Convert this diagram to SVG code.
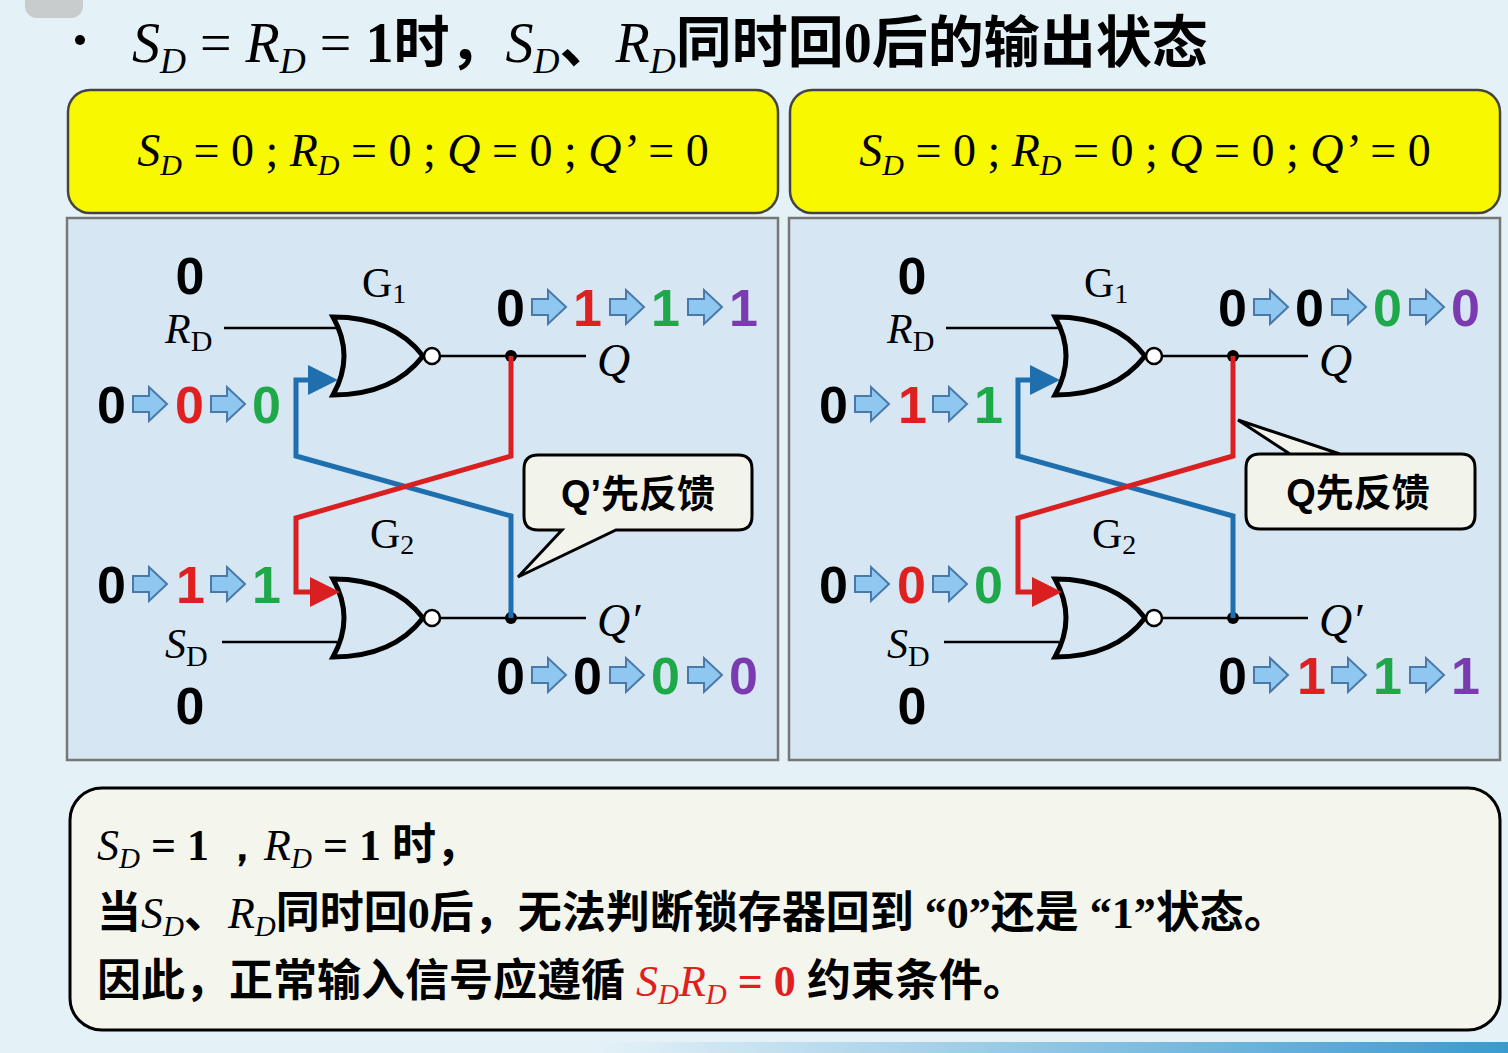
<svg xmlns="http://www.w3.org/2000/svg" width="1508" height="1053" viewBox="0 0 1508 1053">
<style>
.it{font-family:"Liberation Serif",serif;font-style:italic}
.sr{font-family:"Liberation Serif",serif;font-style:normal}
.n{font-family:"Liberation Sans",sans-serif;font-weight:bold;font-size:52px}
.cj{font-family:"Liberation Serif","Noto Sans CJK SC",sans-serif;font-weight:bold}
.w{fill:none;stroke:#000;stroke-width:2.5}
.g{fill:none;stroke:#000;stroke-width:5}
.bl{fill:none;stroke:#1f6fae;stroke-width:5}
.rd{fill:none;stroke:#d91f1f;stroke-width:5}
.k{fill:#000}.r{fill:#e02020}.gr{fill:#1ea84a}.p{fill:#7a3ab0}
</style>
<defs>
<path id="ar" d="M0,-8 H16 V-17 L34,0 L16,17 V8 H0 Z" fill="#8ec8f0" stroke="#4a78a8" stroke-width="2"/>
<marker id="mb" markerWidth="6" markerHeight="6" refX="4" refY="3" orient="auto"><path d="M0,0 L6,3 L0,6 Z" fill="#1f6fae"/></marker>
<marker id="mr" markerWidth="6" markerHeight="6" refX="4" refY="3" orient="auto"><path d="M0,0 L6,3 L0,6 Z" fill="#d91f1f"/></marker>
<g id="nor">
<path class="g" d="M0,-39 Q60,-39 90,0 Q60,39 0,39 Q22,0 0,-39 Z"/>
<circle cx="99" cy="0" r="8" fill="#fff" stroke="#000" stroke-width="2.5"/>
</g>
<linearGradient id="band" x1="0" x2="1"><stop offset="0" stop-color="#3a9ad0" stop-opacity="0"/><stop offset="1" stop-color="#3a9ad0"/></linearGradient>
</defs>
<rect width="1508" height="1053" fill="#e4f1f7"/>
<rect x="25" y="-20" width="58" height="38" rx="12" fill="#c8cccc"/>
<rect x="600" y="1042" width="908" height="11" fill="url(#band)"/>
<g id="title">
<circle cx="80" cy="40" r="5" fill="#000"/>
<text x="132" y="62" font-size="56" class="cj"><tspan class="it" font-weight="normal">S</tspan><tspan class="it" font-weight="normal" font-size="36" dy="11">D</tspan><tspan class="sr" font-weight="normal" dy="-11"> = </tspan><tspan class="it" font-weight="normal">R</tspan><tspan class="it" font-weight="normal" font-size="36" dy="11">D</tspan><tspan class="sr" font-weight="normal" dy="-11"> = </tspan><tspan>1时，</tspan><tspan class="it" font-weight="normal">S</tspan><tspan class="it" font-weight="normal" font-size="36" dy="11">D</tspan><tspan dy="-11">、</tspan><tspan class="it" font-weight="normal">R</tspan><tspan class="it" font-weight="normal" font-size="36" dy="11">D</tspan><tspan dy="-11">同时回0后的输出状态</tspan></text>
</g>

<g id="panel1">
<rect x="68" y="90" width="710" height="123" rx="22" fill="#f8f800" stroke="#444" stroke-width="2.5"/>
<text x="423" y="166" text-anchor="middle" font-size="46" class="it"><tspan>S</tspan><tspan font-size="30" dy="9">D</tspan><tspan class="sr" dy="-9"> = 0 ; </tspan><tspan>R</tspan><tspan font-size="30" dy="9">D</tspan><tspan class="sr" dy="-9"> = 0 ; </tspan><tspan>Q</tspan><tspan class="sr"> = 0 ; </tspan><tspan>Q’</tspan><tspan class="sr"> = 0</tspan></text>
<rect x="67" y="218" width="711" height="542" fill="#d6e7f3" stroke="#777" stroke-width="2.5"/>
</g>
<g id="panel2">
<rect x="790" y="90" width="710" height="123" rx="22" fill="#f8f800" stroke="#444" stroke-width="2.5"/>
<text x="1145" y="166" text-anchor="middle" font-size="46" class="it"><tspan>S</tspan><tspan font-size="30" dy="9">D</tspan><tspan class="sr" dy="-9"> = 0 ; </tspan><tspan>R</tspan><tspan font-size="30" dy="9">D</tspan><tspan class="sr" dy="-9"> = 0 ; </tspan><tspan>Q</tspan><tspan class="sr"> = 0 ; </tspan><tspan>Q’</tspan><tspan class="sr"> = 0</tspan></text>
<rect x="789" y="218" width="711" height="542" fill="#d6e7f3" stroke="#777" stroke-width="2.5"/>
</g>

<g id="circuit1">
<g id="G1"><use href="#nor" x="333" y="356"/><text x="362" y="297" font-size="42" class="sr">G<tspan font-size="28" dy="6">1</tspan></text></g>
<g id="G2"><use href="#nor" x="333" y="618"/><text x="370" y="548" font-size="42" class="sr">G<tspan font-size="28" dy="6">2</tspan></text></g>
<g id="connectors1">
<path class="w" d="M224,328 H337 M222,642 H337 M441,356 H586 M441,618 H586"/>
<circle cx="511" cy="356" r="6"/><circle cx="511" cy="618" r="6"/>
<path class="bl" d="M511,618 V516 L296,456 V380 H328" marker-end="url(#mb)"/>
<path class="rd" d="M511,356 V456 L296,518 V592 H330" marker-end="url(#mr)"/>
</g>
<text x="190" y="294" text-anchor="middle" class="n k">0</text>
<text x="190" y="724" text-anchor="middle" class="n k">0</text>
<text x="165" y="343" font-size="42" class="it">R<tspan class="sr" font-size="30" dy="8">D</tspan></text>
<text x="165" y="658" font-size="42" class="it">S<tspan class="sr" font-size="30" dy="8">D</tspan></text>
<text x="597" y="376" font-size="46" class="it">Q</text>
<text x="597" y="636" font-size="46" class="it">Q′</text>
<text x="97" y="423" class="n k">0</text><use href="#ar" x="133" y="404"/><text x="175" y="423" class="n r">0</text><use href="#ar" x="211" y="404"/><text x="252" y="423" class="n gr">0</text>
<text x="97" y="603" class="n k">0</text><use href="#ar" x="133" y="584"/><text x="176" y="603" class="n r">1</text><use href="#ar" x="211" y="584"/><text x="252" y="603" class="n gr">1</text>
<text x="496" y="326" class="n k">0</text><use href="#ar" x="532" y="307"/><text x="573" y="326" class="n r">1</text><use href="#ar" x="610" y="307"/><text x="651" y="326" class="n gr">1</text><use href="#ar" x="688" y="307"/><text x="729" y="326" class="n p">1</text>
<text x="496" y="694" class="n k">0</text><use href="#ar" x="532" y="675"/><text x="573" y="694" class="n k">0</text><use href="#ar" x="610" y="675"/><text x="651" y="694" class="n gr">0</text><use href="#ar" x="688" y="675"/><text x="729" y="694" class="n p">0</text>
<g id="callout1">
<path d="M538,455 H738 Q752,455 752,469 V516 Q752,530 738,530 H616 L518,577 L562,530 H538 Q524,530 524,516 V469 Q524,455 538,455 Z" fill="#f2f4ec" stroke="#000" stroke-width="3"/>
<text x="638" y="507" text-anchor="middle" font-size="38" font-family="Liberation Sans,'Noto Sans CJK SC',sans-serif" font-weight="bold">Q’先反馈</text>
</g>
</g>

<g id="circuit2">
<g id="G1b"><use href="#nor" x="1055" y="356"/><text x="1084" y="297" font-size="42" class="sr">G<tspan font-size="28" dy="6">1</tspan></text></g>
<g id="G2b"><use href="#nor" x="1055" y="618"/><text x="1092" y="548" font-size="42" class="sr">G<tspan font-size="28" dy="6">2</tspan></text></g>
<g id="connectors2">
<path class="w" d="M946,328 H1059 M944,642 H1059 M1163,356 H1308 M1163,618 H1308"/>
<circle cx="1233" cy="356" r="6"/><circle cx="1233" cy="618" r="6"/>
<path class="bl" d="M1233,618 V516 L1018,456 V380 H1050" marker-end="url(#mb)"/>
<path class="rd" d="M1233,356 V456 L1018,518 V592 H1052" marker-end="url(#mr)"/>
</g>
<text x="912" y="294" text-anchor="middle" class="n k">0</text>
<text x="912" y="724" text-anchor="middle" class="n k">0</text>
<text x="887" y="343" font-size="42" class="it">R<tspan class="sr" font-size="30" dy="8">D</tspan></text>
<text x="887" y="658" font-size="42" class="it">S<tspan class="sr" font-size="30" dy="8">D</tspan></text>
<text x="1319" y="376" font-size="46" class="it">Q</text>
<text x="1319" y="636" font-size="46" class="it">Q′</text>
<text x="819" y="423" class="n k">0</text><use href="#ar" x="855" y="404"/><text x="898" y="423" class="n r">1</text><use href="#ar" x="933" y="404"/><text x="974" y="423" class="n gr">1</text>
<text x="819" y="603" class="n k">0</text><use href="#ar" x="855" y="584"/><text x="897" y="603" class="n r">0</text><use href="#ar" x="933" y="584"/><text x="974" y="603" class="n gr">0</text>
<text x="1218" y="326" class="n k">0</text><use href="#ar" x="1254" y="307"/><text x="1295" y="326" class="n k">0</text><use href="#ar" x="1332" y="307"/><text x="1373" y="326" class="n gr">0</text><use href="#ar" x="1410" y="307"/><text x="1451" y="326" class="n p">0</text>
<text x="1218" y="694" class="n k">0</text><use href="#ar" x="1254" y="675"/><text x="1297" y="694" class="n r">1</text><use href="#ar" x="1332" y="675"/><text x="1373" y="694" class="n gr">1</text><use href="#ar" x="1410" y="675"/><text x="1451" y="694" class="n p">1</text>
<g id="callout2">
<path d="M1260,454 H1461 Q1475,454 1475,468 V515 Q1475,529 1461,529 H1260 Q1246,529 1246,515 V468 Q1246,454 1260,454 H1340 L1238,420 L1290,454" fill="#f2f4ec" stroke="#000" stroke-width="3"/>
<text x="1358" y="506" text-anchor="middle" font-size="38" font-family="Liberation Sans,'Noto Sans CJK SC',sans-serif" font-weight="bold">Q先反馈</text>
</g>
</g>

<g id="note">
<rect x="70" y="788" width="1430" height="242" rx="32" fill="#f4f6ee" stroke="#000" stroke-width="3"/>
<text x="97" y="860" font-size="44" class="cj"><tspan class="it" font-weight="normal">S</tspan><tspan class="it" font-weight="normal" font-size="29" dy="8">D</tspan><tspan class="sr" dy="-8"> = 1 ，</tspan><tspan class="it" font-weight="normal">R</tspan><tspan class="it" font-weight="normal" font-size="29" dy="8">D</tspan><tspan class="sr" dy="-8"> = 1 </tspan><tspan>时，</tspan></text>
<text x="97" y="928" font-size="44" class="cj"><tspan>当</tspan><tspan class="it" font-weight="normal">S</tspan><tspan class="it" font-weight="normal" font-size="29" dy="8">D</tspan><tspan dy="-8">、</tspan><tspan class="it" font-weight="normal">R</tspan><tspan class="it" font-weight="normal" font-size="29" dy="8">D</tspan><tspan dy="-8">同时回0后，无法判断锁存器回到 “0”还是 “1”状态。</tspan></text>
<text x="97" y="996" font-size="44" class="cj"><tspan>因此，正常输入信号应遵循 </tspan><tspan class="it" font-weight="normal" fill="#e02020">S</tspan><tspan class="it" font-weight="normal" font-size="29" dy="8" fill="#e02020">D</tspan><tspan class="it" font-weight="normal" fill="#e02020" dy="-8">R</tspan><tspan class="it" font-weight="normal" font-size="29" dy="8" fill="#e02020">D</tspan><tspan class="sr" fill="#e02020" dy="-8"> = 0</tspan><tspan> 约束条件。</tspan></text>
</g>
</svg>
